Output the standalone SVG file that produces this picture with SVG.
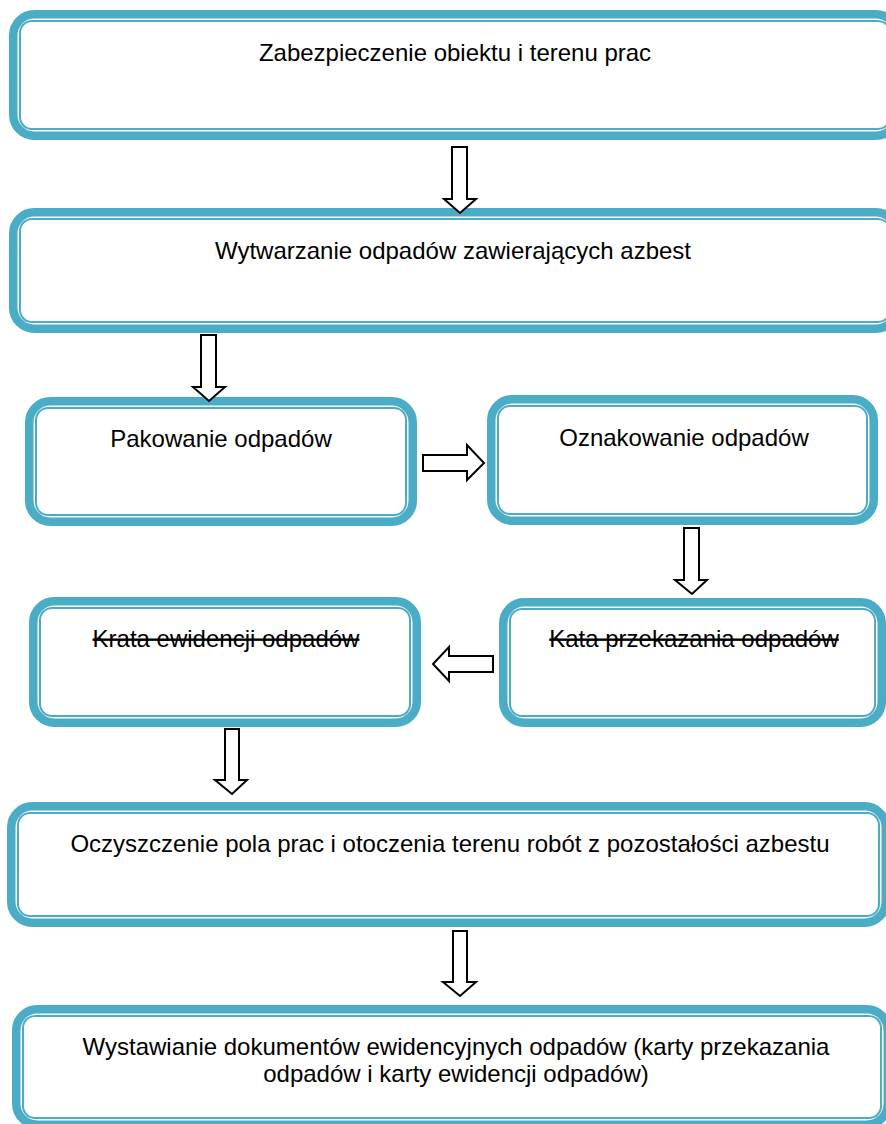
<svg xmlns="http://www.w3.org/2000/svg" width="886" height="1124" viewBox="0 0 886 1124">
<style>
.o{fill:#fff;stroke:#4BACC6;stroke-width:8.5}
.i{fill:none;stroke:#4BACC6;stroke-width:2}
.t{font-family:"Liberation Sans",Arial,sans-serif;font-size:24px;fill:#000;text-anchor:middle}
.s{text-decoration:line-through}
.a{fill:#fff;stroke:#000;stroke-width:2;stroke-linejoin:miter}
</style>
<rect width="886" height="1124" fill="#fff"/>
<g id="n1">
<rect class="o" x="13.25" y="14.25" width="883.5" height="121.5" rx="21"/>
<rect class="i" x="20" y="21" width="870" height="108" rx="12"/>
<text class="t" x="455" y="61">Zabezpieczenie obiektu i terenu prac</text>
</g>
<g id="n2">
<rect class="o" x="13.25" y="212.25" width="883.5" height="116.5" rx="21"/>
<rect class="i" x="20" y="219" width="870" height="103" rx="12"/>
<text class="t" x="453" y="259">Wytwarzanie odpadów zawierających azbest</text>
</g>
<g id="n3">
<rect class="o" x="29.25" y="401.25" width="383.5" height="120.5" rx="21"/>
<rect class="i" x="36" y="408" width="370" height="107" rx="12"/>
<text class="t" x="221" y="447">Pakowanie odpadów</text>
</g>
<g id="n4">
<rect class="o" x="491.25" y="399.25" width="382.5" height="121.5" rx="21"/>
<rect class="i" x="498" y="406" width="369" height="108" rx="12"/>
<text class="t" x="684" y="446">Oznakowanie odpadów</text>
</g>
<g id="n5">
<rect class="o" x="503.25" y="602.25" width="378.5" height="120.5" rx="21"/>
<rect class="i" x="510" y="609" width="365" height="107" rx="12"/>
<text class="t s" x="694" y="647">Kata przekazania odpadów</text>
</g>
<g id="n6">
<rect class="o" x="33.25" y="601.25" width="383.5" height="121.5" rx="21"/>
<rect class="i" x="40" y="608" width="370" height="108" rx="12"/>
<text class="t s" x="226" y="647">Krata ewidencji odpadów</text>
</g>
<g id="n7">
<rect class="o" x="11.25" y="806.25" width="874.5" height="116.5" rx="21"/>
<rect class="i" x="18" y="813" width="861" height="103" rx="12"/>
<text class="t" x="450" y="852">Oczyszczenie pola prac i otoczenia terenu robót z pozostałości azbestu</text>
</g>
<g id="n8">
<rect class="o" x="16.25" y="1009.25" width="871.5" height="115.5" rx="21"/>
<rect class="i" x="23" y="1016" width="858" height="102" rx="12"/>
<text class="t" x="456" y="1055">Wystawianie dokumentów ewidencyjnych odpadów (karty przekazania</text>
<text class="t" x="456" y="1082">odpadów i karty ewidencji odpadów)</text>
</g>
<g id="connectors">
<polygon class="a" points="452,147 467,147 467,199 476,199 460,213 444,199 452,199"/>
<polygon class="a" points="201,335 216,335 216,387 225,387 209,401 193,387 201,387"/>
<polygon class="a" points="423,455 467,455 467,445 484,463 467,480 467,471 423,471"/>
<polygon class="a" points="684,528 699,528 699,580 707,580 692,594 675,580 684,580"/>
<polygon class="a" points="493,656 449,656 449,647 433,664 449,681 449,672 493,672"/>
<polygon class="a" points="225,729 239,729 239,780 247,780 232,794 215,780 225,780"/>
<polygon class="a" points="453,931 467,931 467,982 476,982 460,996 443,982 453,982"/>
</g>
</svg>
